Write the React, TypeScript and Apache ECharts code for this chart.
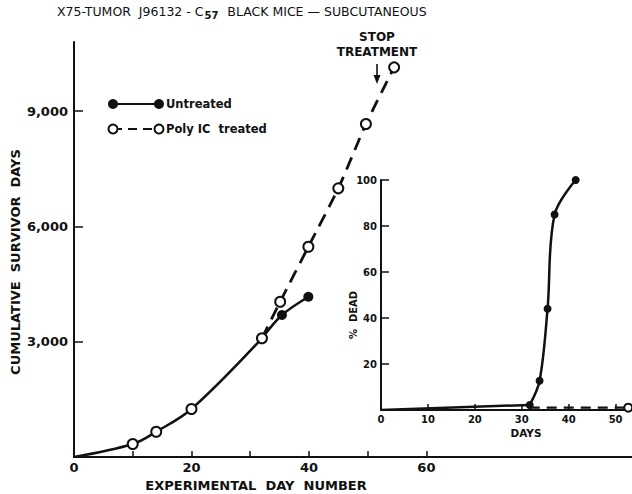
import React, { useEffect, useRef } from "react";
import * as echarts from "echarts";

// Main chart: cumulative survivor days vs experimental day number
const treatedDays = [10, 14, 20, 32, 35.1, 39.9, 45, 49.7, 54.5];
const treatedSurvivorDays = [338, 658, 1249, 3089, 4041, 5472, 6992, 8665, 10140];
const untreatedDays = [32, 35.4, 39.9];
const untreatedSurvivorDays = [3089, 3695, 4171];
const mainXTicks = [0, 10, 20, 30, 40, 50, 60];
const mainXLabels = [0, 20, 40, 60];
const mainYTicks = [3000, 6000, 9000];

// Inset: % dead vs days
const insetUntreatedDays = [31.7, 33.8, 35.5, 37, 41.5];
const insetUntreatedDead = [2.2, 12.7, 44, 85, 100];
const insetTreatedDays = [31.7, 52.7];
const insetTreatedDead = [1, 1];
const insetXTicks = [0, 10, 20, 30, 40, 50];
const insetYTicks = [20, 40, 60, 80, 100];

const INK = "#111";
const FONT = "DejaVu Sans";

export default function App() {
  const ref = useRef<HTMLDivElement>(null);
  useEffect(() => {
    if (!ref.current) return;
    const chart = echarts.init(ref.current, null, { renderer: "svg" });

    const openItem = { color: "#fff", borderColor: INK, borderWidth: 2 };
    const splitAt = 3;
    const earlyTreated = [
      { value: [0, 0], symbol: "none" },
      ...treatedDays.slice(0, splitAt + 1).map((d, i) => ({ value: [d, treatedSurvivorDays[i]] })),
    ];
    const lateTreated = treatedDays.slice(splitAt).map((d, i) => {
      const item: any = { value: [d, treatedSurvivorDays[splitAt + i]] };
      if (i === 0) item.symbol = "none";
      return item;
    });
    const untreated = untreatedDays.map((d, i) => {
      const item: any = { value: [d, untreatedSurvivorDays[i]] };
      if (i === 0) item.symbol = "none";
      return item;
    });
    const insetBaseline = [
      { value: [0, 0], symbol: "none" },
      { value: [insetUntreatedDays[0], insetUntreatedDead[0]], symbol: "none" },
    ];
    const insetUntreated = insetUntreatedDays.map((d, i) => ({ value: [d, insetUntreatedDead[i]] }));
    const insetTreated = insetTreatedDays.map((d, i) => {
      const item: any = { value: [d, insetTreatedDead[i]] };
      if (i === 0) item.symbol = "none";
      return item;
    });

    const axisLine = { show: true, lineStyle: { color: INK, width: 2 } };
    const mainLabel = { color: INK, fontFamily: FONT, fontSize: 13, fontWeight: "bold" as const };
    const insetLabel = { color: INK, fontFamily: FONT, fontSize: 10, fontWeight: "bold" as const };

    chart.setOption({
      animation: false,
      backgroundColor: "#fff",
      grid: [
        { left: 74, top: 42, right: 0, bottom: 37 },
        { left: 381, top: 180, right: 0, bottom: 84 },
      ],
      xAxis: [
        {
          type: "value", gridIndex: 0, min: 0, max: 95,
          axisLine,
          axisTick: { show: true, inside: true, length: 6, customValues: mainXTicks, lineStyle: { color: INK, width: 1.5 } },
          axisLabel: { ...mainLabel, margin: 4, customValues: mainXLabels },
          splitLine: { show: false },
        },
        {
          type: "value", gridIndex: 1, min: 0, max: 53.5,
          axisLine,
          axisTick: { show: true, inside: true, length: 6, customValues: insetXTicks, lineStyle: { color: INK, width: 1.5 } },
          axisLabel: { ...insetLabel, margin: 4, customValues: insetXTicks },
          splitLine: { show: false },
        },
      ],
      yAxis: [
        {
          type: "value", gridIndex: 0, min: 0, max: 10800,
          axisLine,
          axisTick: { show: true, inside: true, length: 9, customValues: mainYTicks, lineStyle: { color: INK, width: 1.5 } },
          axisLabel: {
            ...mainLabel, margin: 6, customValues: mainYTicks,
            formatter: (v: number) => v.toLocaleString("en-US"),
          },
          splitLine: { show: false },
        },
        {
          type: "value", gridIndex: 1, min: 0, max: 100,
          axisLine,
          axisTick: { show: true, inside: true, length: 8, customValues: insetYTicks, lineStyle: { color: INK, width: 1.5 } },
          axisLabel: { ...insetLabel, margin: 4, customValues: insetYTicks },
          splitLine: { show: false },
        },
      ],
      series: [
        {
          name: "Untreated", type: "line", xAxisIndex: 0, yAxisIndex: 0,
          data: untreated, smooth: 0.3, symbol: "circle", symbolSize: 10,
          lineStyle: { color: INK, width: 2.5 }, itemStyle: { color: INK },
        },
        {
          name: "Poly IC treated (early)", type: "line", xAxisIndex: 0, yAxisIndex: 0,
          data: earlyTreated, smooth: 0.35, symbol: "circle", symbolSize: 10,
          lineStyle: { color: INK, width: 2.5 }, itemStyle: openItem,
        },
        {
          name: "Poly IC treated", type: "line", xAxisIndex: 0, yAxisIndex: 0,
          data: lateTreated, smooth: 0.2, symbol: "circle", symbolSize: 10,
          lineStyle: { color: INK, width: 2.8, type: [13, 8] }, itemStyle: openItem,
        },
        {
          name: "Untreated baseline", type: "line", xAxisIndex: 1, yAxisIndex: 1,
          data: insetBaseline, symbol: "none",
          lineStyle: { color: INK, width: 2.5 },
        },
        {
          name: "Untreated % dead", type: "line", xAxisIndex: 1, yAxisIndex: 1,
          data: insetUntreated, smooth: 0.35, symbol: "circle", symbolSize: 8,
          lineStyle: { color: INK, width: 2.5 }, itemStyle: { color: INK },
        },
        {
          name: "Treated % dead", type: "line", xAxisIndex: 1, yAxisIndex: 1,
          data: insetTreated, symbol: "circle", symbolSize: 8,
          lineStyle: { color: INK, width: 2.2, type: [10, 7] }, itemStyle: openItem,
        },
      ],
      graphic: [
        {
          type: "text", left: 57, top: 5,
          style: {
            text: "X75-TUMOR  J96132 - C{sub|57}  BLACK MICE — SUBCUTANEOUS",
            fill: INK, font: `500 12.5px ${FONT}`,
            rich: { sub: { fontSize: 10, fontWeight: "bold", fontFamily: FONT, fill: INK, padding: [7, 1, 0, 1] } },
          },
        },
        { type: "text", x: 377, y: 37, style: { text: "STOP", fill: INK, font: `bold 12px ${FONT}`, textAlign: "center", textVerticalAlign: "middle" } },
        { type: "text", x: 377, y: 52, style: { text: "TREATMENT", fill: INK, font: `bold 12px ${FONT}`, textAlign: "center", textVerticalAlign: "middle" } },
        { type: "line", shape: { x1: 377, y1: 64, x2: 377, y2: 78 }, style: { stroke: INK, lineWidth: 1.6 } },
        { type: "polygon", shape: { points: [[373.5, 75], [380.5, 75], [377, 84]] }, style: { fill: INK } },
        // legend
        { type: "line", shape: { x1: 113, y1: 104, x2: 159, y2: 104 }, style: { stroke: INK, lineWidth: 2 } },
        { type: "circle", shape: { cx: 113, cy: 104, r: 5 }, style: { fill: INK } },
        { type: "circle", shape: { cx: 159, cy: 104, r: 5 }, style: { fill: INK } },
        { type: "text", x: 166, y: 104, style: { text: "Untreated", fill: INK, font: `bold 11.5px ${FONT}`, textVerticalAlign: "middle" } },
        { type: "line", shape: { x1: 113, y1: 129, x2: 159, y2: 129 }, style: { stroke: INK, lineWidth: 2, lineDash: [9, 6] } },
        { type: "circle", shape: { cx: 113, cy: 129, r: 4.5 }, style: { fill: "#fff", stroke: INK, lineWidth: 2 } },
        { type: "circle", shape: { cx: 159, cy: 129, r: 4.5 }, style: { fill: "#fff", stroke: INK, lineWidth: 2 } },
        { type: "text", x: 166, y: 129, style: { text: "Poly IC  treated", fill: INK, font: `bold 11.5px ${FONT}`, textVerticalAlign: "middle" } },
        // axis names
        { type: "text", x: 15, y: 262, rotation: Math.PI / 2, style: { text: "CUMULATIVE  SURVIVOR  DAYS", fill: INK, font: `bold 13px ${FONT}`, textAlign: "center", textVerticalAlign: "middle" } },
        { type: "text", x: 256, y: 485, style: { text: "EXPERIMENTAL  DAY  NUMBER", fill: INK, font: `bold 13px ${FONT}`, textAlign: "center", textVerticalAlign: "middle" } },
        { type: "text", x: 353, y: 315, rotation: Math.PI / 2, style: { text: "%  DEAD", fill: INK, font: `bold 10px ${FONT}`, textAlign: "center", textVerticalAlign: "middle" } },
        { type: "text", x: 526, y: 433, style: { text: "DAYS", fill: INK, font: `bold 10.5px ${FONT}`, textAlign: "center", textVerticalAlign: "middle" } },
      ],
    });
    return () => chart.dispose();
  }, []);
  return <div ref={ref} style={{ width: 632, height: 494, position: "absolute", left: 0, top: 0 }} />;
}
